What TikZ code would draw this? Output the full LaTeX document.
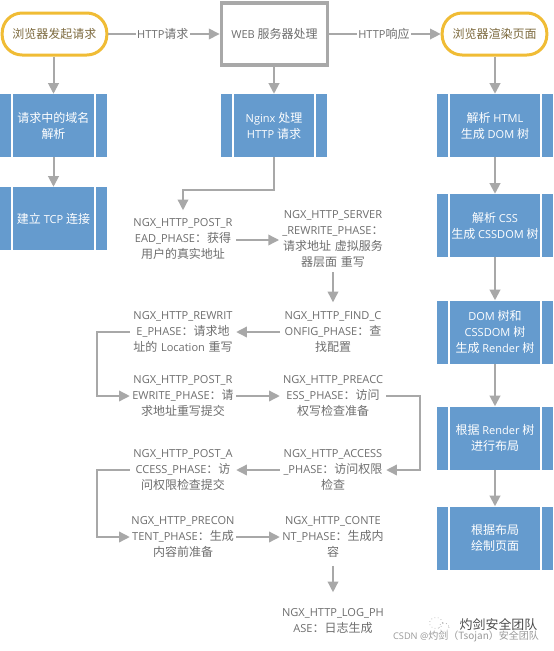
\documentclass[tikz,border=0pt]{standalone}
\usepackage{fontspec}
\usetikzlibrary{arrows.meta,positioning}
\setmainfont{Open Sans}[Scale=0.92]
\newfontfamily\cjk{Noto Sans CJK SC}
\newcommand\zh[1]{{\cjk #1}}
\definecolor{bluebox}{HTML}{659BCE}
\definecolor{goldline}{HTML}{F0BC35}
\definecolor{goldtext}{HTML}{7D6A3E}
\definecolor{grayline}{HTML}{A8A8A8}
\definecolor{graytext}{HTML}{6E6E6E}
\tikzset{
  x=0.75pt,y=-0.75pt,
  every node/.style={font=\fontsize{9pt}{12pt}\selectfont},
  terminator/.style={draw=goldline,line width=2.25pt,fill=white,rounded corners=15pt,minimum width=78.5pt,minimum height=31.5pt,inner sep=0pt,text=goldtext},
  webbox/.style={draw=grayline,line width=2.4pt,fill=white,minimum width=80pt,minimum height=46.5pt,inner sep=0pt,text=graytext},
  procbox/.style={fill=bluebox,minimum width=#1,minimum height=47.25pt,inner sep=0pt,text=white,align=center},
  divider/.style={draw=white,line width=1.1pt},
  phase/.style={text=graytext,align=center,text width=79.5pt,inner xsep=0pt,inner ysep=0pt},
  thick arrow/.style={draw=grayline,line width=1.5pt,-{Triangle[length=8pt,width=8pt,fill=grayline]}},
  thin arrow/.style={draw=grayline,line width=1pt,-{Triangle[length=8pt,width=8pt,fill=grayline]}},
  edge label/.style={fill=white,inner xsep=1pt,inner ysep=1pt,text=graytext},
}
\begin{document}
\begin{tikzpicture}
\useasboundingbox (0,0) rectangle (554,651);
\fill[white] (0,0) rectangle (554,651);
% top row
\node[terminator] (start) at (54.5,34) {\zh{浏览器发起请求}};
\node[webbox] (web) at (274.5,34) {WEB \zh{服务器处理}};
\node[terminator] (render) at (494.5,34) {\zh{浏览器渲染页面}};
% left column
\node[procbox=80.25pt] (dns) at (53.5,125.5) {\zh{请求中的域名}\\\zh{解析}};
\node[procbox=80.25pt] (tcp) at (53.5,218.5) {\zh{建立} TCP \zh{连接}};
% middle
\node[procbox=79.5pt] (nginx) at (274,125.5) {Nginx \zh{处理}\\HTTP \zh{请求}};
% right column
\node[procbox=87pt] (r1) at (495,125.5) {\zh{解析} HTML\\\zh{生成} DOM \zh{树}};
\node[procbox=87pt] (r2) at (495,225.5) {\zh{解析} CSS\\\zh{生成} CSSDOM \zh{树}};
\node[procbox=87pt] (r3) at (495,332) {DOM \zh{树和}\\CSSDOM \zh{树}\\\zh{生成} Render \zh{树}};
\node[procbox=87pt] (r4) at (495,438) {\zh{根据} Render \zh{树}\\\zh{进行布局}};
\node[procbox=87pt] (r5) at (495,538) {\zh{根据布局}\\\zh{绘制页面}};
\foreach \n in {dns,tcp,nginx,r1,r2,r3,r4,r5}{
  \draw[divider] ([xshift=9.2pt]\n.north west) -- ([xshift=9.2pt]\n.south west);
  \draw[divider] ([xshift=-9.2pt]\n.north east) -- ([xshift=-9.2pt]\n.south east);
}
% phases
\node[phase] (postread) at (183,239) {NGX\_HTTP\_POST\_R\\EAD\_PHASE\zh{：获得}\\\zh{用户的真实地址}};
\node[phase] (server) at (333,239) {NGX\_HTTP\_SERVER\\\_REWRITE\_PHASE\zh{：}\\\zh{请求地址 虚拟服务}\\\zh{器层面 重写}};
\node[phase] (find) at (333,332) {NGX\_HTTP\_FIND\_C\\ONFIG\_PHASE\zh{：查}\\\zh{找配置}};
\node[phase] (rewrite) at (183,332) {NGX\_HTTP\_REWRIT\\E\_PHASE\zh{：请求地}\\\zh{址的} Location \zh{重写}};
\node[phase] (postrewrite) at (183,396) {NGX\_HTTP\_POST\_R\\EWRITE\_PHASE\zh{：请}\\\zh{求地址重写提交}};
\node[phase] (preaccess) at (333,396) {NGX\_HTTP\_PREACC\\ESS\_PHASE\zh{：访问}\\\zh{权写检查准备}};
\node[phase] (access) at (333,470) {NGX\_HTTP\_ACCESS\\\_PHASE\zh{：访问权限}\\\zh{检查}};
\node[phase] (postaccess) at (183,470) {NGX\_HTTP\_POST\_A\\CCESS\_PHASE\zh{：访}\\\zh{问权限检查提交}};
\node[phase] (precontent) at (183,537) {NGX\_HTTP\_PRECON\\TENT\_PHASE\zh{：生成}\\\zh{内容前准备}};
\node[phase] (content) at (333,537) {NGX\_HTTP\_CONTE\\NT\_PHASE\zh{：生成内}\\\zh{容}};
\node[phase] (log) at (333,621) {NGX\_HTTP\_LOG\_PH\\ASE\zh{：日志生成}};
% top connectors
\draw[thin arrow] (start) -- node[edge label,pos=.49] {HTTP\zh{请求}} (web);
\draw[thin arrow] (web) -- node[edge label,pos=.49] {HTTP\zh{响应}} (render);
\draw[thick arrow] (start.south -| dns) -- (dns);
\draw[thick arrow] (dns) -- (tcp);
\draw[thick arrow] (web.south -| nginx) -- (nginx);
\draw[thick arrow] (render.south -| r1) -- (r1);
\draw[thick arrow] (r1) -- (r2);
\draw[thick arrow] (r2) -- (r3);
\draw[thick arrow] (r3) -- (r4);
\draw[thick arrow] (r4) -- (r5);
% phase connectors
\coordinate (t1) at (274,190);
\coordinate (t2) at (183,190);
\draw[thin arrow,shorten >=6pt] (nginx.south) -- (t1) -- (t2) -- (postread.north);
\coordinate (s1) at (236,240);
\coordinate (s2) at (279,240);
\draw[thin arrow] (s1) -- (s2);
\draw[thin arrow,shorten <=0.75pt,shorten >=6.75pt] (server) ++(0,32) -- (find.north);
\draw[thin arrow] (find.west) -- (rewrite.east);
\coordinate (a1) at (97,332);
\coordinate (a2) at (97,396);
\draw[thin arrow] (rewrite.west) -- (a1) -- (a2) -- (postrewrite.west);
\draw[thin arrow] (postrewrite.east) -- (preaccess.west);
\coordinate (b1) at (420,396);
\coordinate (b2) at (420,470);
\draw[thin arrow] (preaccess.east) -- (b1) -- (b2) -- (access.east);
\draw[thin arrow] (access.west) -- (postaccess.east);
\coordinate (c1) at (97,470);
\coordinate (c2) at (97,537);
\draw[thin arrow] (postaccess.west) -- (c1) -- (c2) -- (precontent.west);
\draw[thin arrow] (precontent.east) -- (content.west);
\draw[thin arrow,shorten <=6pt,shorten >=12pt] (content.south) -- (log.north);
% watermark
\begin{scope}[draw=gray!70,line width=.5pt,dotted]
\draw (436,623) ellipse [x radius=6.5,y radius=5.5];
\draw (444,627) ellipse [x radius=5,y radius=4.2];
\end{scope}
\node[text=black!70,font=\fontsize{9.7pt}{12pt}\selectfont] (wm) at (498.5,624.5) {\zh{灼剑安全团队}};
\node[text=black!40,font=\fontsize{7.5pt}{9pt}\selectfont] (csdn) at (466,636.5) {CSDN @\zh{灼剑（Tsojan）安全团队}};
\end{tikzpicture}
\end{document}
